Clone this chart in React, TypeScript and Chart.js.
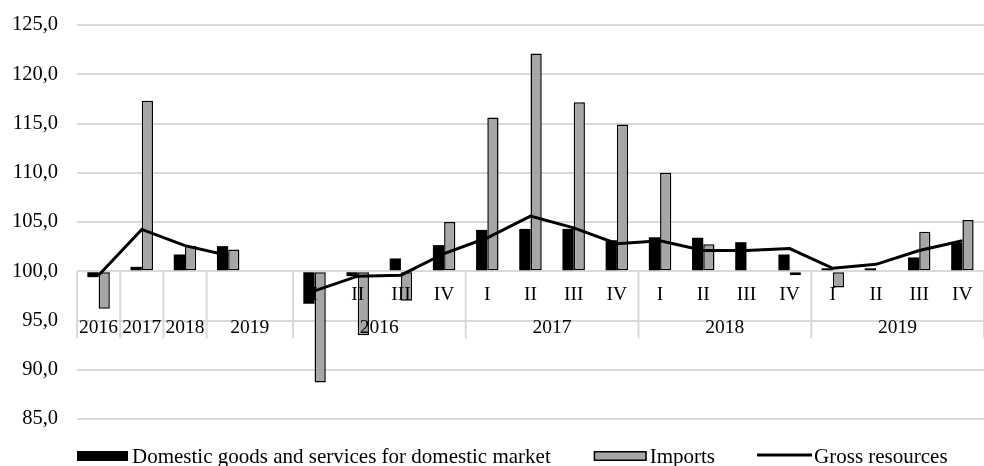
import React, { useEffect, useRef } from "react";
import { Chart, registerables } from "chart.js";

Chart.register(...registerables);

// ---- Data ----
const annualYears = ["2016", "2017", "2018", "2019"];
const quarterYears = ["2016", "2017", "2018", "2019"];
const quarterNames = ["I", "II", "III", "IV"];

// order: annual 2016..2019, blank spacer, then quarters 2016 I .. 2019 IV
const domestic = [
  99.4, 100.45, 101.7, 102.55, null,
  96.7, 99.5, 101.3, 102.65,
  104.2, 104.3, 104.3, 103.15,
  103.45, 103.4, 102.95, 101.7,
  100.3, 100.3, 101.4, 102.9,
];
const imports = [
  96.2, 117.3, 102.6, 102.2, null,
  88.7, 93.5, 97.0, 105.0,
  115.6, 122.1, 117.15, 114.9,
  110.0, 102.75, 100.1, 99.6,
  98.35, 100.1, 104.0, 105.2,
];
const gross = [
  99.6, 104.25, 102.6, 101.6, null,
  98.0, 99.5, 99.6, 101.8,
  103.4, 105.6, 104.4, 102.8,
  103.1, 102.1, 102.1, 102.3,
  100.3, 100.7, 102.1, 103.1,
];

const yMin = 85;
const yMax = 125;
const yStep = 5;
const baseValue = 100;

const seriesNames = [
  "Domestic goods and services for domestic market",
  "Imports",
  "Gross resources",
];

const categories = [
  ...annualYears,
  "",
  ...quarterYears.flatMap((y) => quarterNames.map((q) => `${q} ${y}`)),
];

// year-level groups (start index, span)
const yearGroups = [
  { label: annualYears[0], start: 0, span: 1 },
  { label: annualYears[1], start: 1, span: 1 },
  { label: annualYears[2], start: 2, span: 1 },
  { label: annualYears[3], start: 3, span: 2 },
  ...quarterYears.map((y, k) => ({ label: y, start: 5 + k * 4, span: 4 })),
];
// quarter-level labels
const quarterLabels = categories.map((c, i) => (i >= 5 ? c.split(" ")[0] : ""));

const FONT = "'Liberation Serif', 'Times New Roman', serif";
const GRID = "#d9d9d9";
const GREY = "#a6a6a6";

const axisPlugin = {
  id: "multiLevelAxis",
  beforeDatasetsDraw(chart: any) {
    const x = chart.scales.x;
    const y = chart.scales.y;
    const ctx = chart.ctx;
    const cw = x.getPixelForValue(1) - x.getPixelForValue(0);
    const y0 = y.getPixelForValue(baseValue);
    const bounds = new Set<number>();
    yearGroups.forEach((g) => {
      bounds.add(g.start);
      bounds.add(g.start + g.span);
    });
    ctx.save();
    ctx.strokeStyle = GRID;
    ctx.lineWidth = 2;
    bounds.forEach((i) => {
      const px = x.getPixelForValue(0) - cw / 2 + i * cw;
      ctx.beginPath();
      ctx.moveTo(px, y0);
      ctx.lineTo(px, y0 + 67);
      ctx.stroke();
    });
    ctx.restore();
  },
  afterDatasetsDraw(chart: any) {
    const x = chart.scales.x;
    const y = chart.scales.y;
    const ctx = chart.ctx;
    const cw = x.getPixelForValue(1) - x.getPixelForValue(0);
    const y0 = y.getPixelForValue(baseValue);
    ctx.save();
    ctx.fillStyle = "#000";
    ctx.font = `19.5px ${FONT}`;
    ctx.textAlign = "center";
    ctx.textBaseline = "alphabetic";
    quarterLabels.forEach((q, i) => {
      if (!q) return;
      ctx.fillText(q, x.getPixelForValue(i), y0 + 29);
    });
    yearGroups.forEach((g) => {
      const left = x.getPixelForValue(0) - cw / 2 + g.start * cw;
      ctx.fillText(g.label, left + (g.span * cw) / 2, y0 + 62);
    });
    ctx.restore();
  },
  afterDraw(chart: any) {
    const ctx = chart.ctx;
    ctx.save();
    ctx.font = `21px ${FONT}`;
    ctx.textBaseline = "alphabetic";
    ctx.textAlign = "left";
    let cx = 77;
    const by = 451;
    const bh = 10;
    const textY = 463;
    // item 1: black box
    ctx.fillStyle = "#000";
    ctx.fillRect(cx, by, 51, bh);
    cx += 51 + 4;
    ctx.fillText(seriesNames[0], cx, textY);
    cx += ctx.measureText(seriesNames[0]).width + 43;
    // item 2: grey box with border
    ctx.fillStyle = GREY;
    ctx.fillRect(cx, by, 53, bh);
    ctx.strokeStyle = "#000";
    ctx.lineWidth = 1.5;
    ctx.strokeRect(cx + 0.75, by + 0.75, 53 - 1.5, bh - 1.5);
    cx += 53 + 3;
    ctx.fillStyle = "#000";
    ctx.fillText(seriesNames[1], cx, textY);
    cx += ctx.measureText(seriesNames[1]).width + 42;
    // item 3: line
    ctx.strokeStyle = "#000";
    ctx.lineWidth = 3;
    ctx.beginPath();
    ctx.moveTo(cx, by + bh / 2 - 1);
    ctx.lineTo(cx + 55, by + bh / 2 - 1);
    ctx.stroke();
    cx += 55 + 2;
    ctx.fillText(seriesNames[2], cx, textY);
    ctx.restore();
  },
};

export default function App() {
  const ref = useRef<HTMLCanvasElement | null>(null);
  useEffect(() => {
    if (!ref.current) return;
    const chart = new Chart(ref.current, {
      type: "bar",
      data: {
        labels: categories,
        datasets: [
          {
            type: "line",
            label: seriesNames[2],
            data: gross,
            borderColor: "#000",
            borderWidth: 3,
            pointRadius: 0,
            tension: 0,
            spanGaps: false,
            order: 0,
          } as any,
          {
            label: seriesNames[0],
            data: domestic,
            base: baseValue,
            backgroundColor: "#000",
            borderWidth: 0,
            categoryPercentage: 0.52,
            barPercentage: 1,
            order: 1,
          } as any,
          {
            label: seriesNames[1],
            data: imports,
            base: baseValue,
            backgroundColor: GREY,
            borderColor: "#000",
            borderWidth: 1.5,
            borderSkipped: false,
            categoryPercentage: 0.52,
            barPercentage: 1,
            order: 2,
          } as any,
        ],
      },
      options: {
        responsive: false,
        animation: false,
        layout: { padding: { top: 25, bottom: 47, left: 0, right: 0 } },
        plugins: {
          legend: { display: false },
          tooltip: { enabled: false },
        },
        scales: {
          x: { display: false },
          y: {
            min: yMin,
            max: yMax,
            afterFit: (s: any) => {
              s.width = 77;
              s.paddingTop = 0;
              s.paddingBottom = 0;
            },
            border: { display: false },
            grid: { color: GRID, lineWidth: 2, drawTicks: false },
            ticks: {
              stepSize: yStep,
              padding: 19,
              color: "#000",
              font: { size: 20.5, family: FONT },
              callback: (v: any) => Number(v).toFixed(1).replace(".", ","),
            },
          },
        },
      },
      plugins: [axisPlugin],
    });
    return () => chart.destroy();
  }, []);
  return (
    <div style={{ position: "absolute", left: 0, top: 0, width: 984, height: 466, background: "#fff" }}>
      <canvas ref={ref} width={984} height={466} style={{ width: 984, height: 466, display: "block" }} />
    </div>
  );
}
